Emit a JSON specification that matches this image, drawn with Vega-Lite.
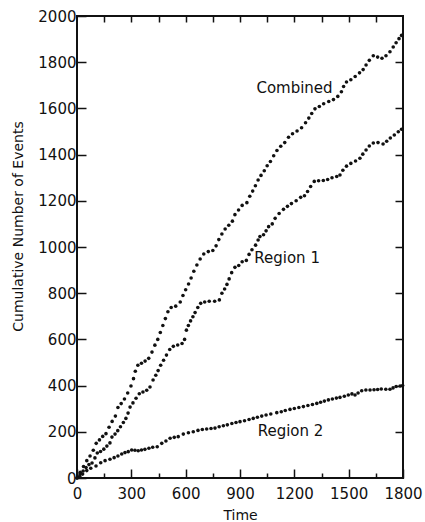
{
  "$schema": "https://vega.github.io/schema/vega-lite/v6.json",
  "width": 326,
  "height": 462,
  "autosize": "none",
  "padding": {"left": 77, "top": 16, "right": 22, "bottom": 44},
  "background": "white",
  "config": {
    "view": {"stroke": "#111", "strokeWidth": 2},
    "font": "DejaVu Sans",
    "axis": {"grid": false, "domain": false, "tickColor": "#111", "tickWidth": 1.5, "labelColor": "#111", "titleColor": "#111", "labelFontSize": 15, "titleFontSize": 14, "titleFontWeight": "normal", "format": "d"}
  },
  "datasets": {
    "pts": [
      {"s":"Combined","t":0,"v":0},{"s":"Combined","t":18,"v":25},{"s":"Combined","t":36,"v":50},{"s":"Combined","t":54,"v":75},{"s":"Combined","t":72,"v":95},{"s":"Combined","t":90,"v":120},{"s":"Combined","t":106,"v":150},{"s":"Combined","t":124,"v":165},{"s":"Combined","t":142,"v":180},{"s":"Combined","t":160,"v":192},{"s":"Combined","t":177,"v":220},{"s":"Combined","t":194,"v":245},{"s":"Combined","t":212,"v":268},{"s":"Combined","t":226,"v":305},{"s":"Combined","t":244,"v":322},{"s":"Combined","t":262,"v":342},{"s":"Combined","t":280,"v":368},{"s":"Combined","t":298,"v":398},{"s":"Combined","t":312,"v":430},{"s":"Combined","t":322,"v":462},{"s":"Combined","t":336,"v":488},{"s":"Combined","t":356,"v":497},{"s":"Combined","t":376,"v":506},{"s":"Combined","t":396,"v":518},{"s":"Combined","t":414,"v":545},{"s":"Combined","t":430,"v":575},{"s":"Combined","t":446,"v":600},{"s":"Combined","t":460,"v":630},{"s":"Combined","t":474,"v":660},{"s":"Combined","t":488,"v":690},{"s":"Combined","t":502,"v":720},{"s":"Combined","t":520,"v":738},{"s":"Combined","t":545,"v":744},{"s":"Combined","t":570,"v":762},{"s":"Combined","t":585,"v":790},{"s":"Combined","t":600,"v":815},{"s":"Combined","t":616,"v":840},{"s":"Combined","t":630,"v":866},{"s":"Combined","t":645,"v":895},{"s":"Combined","t":662,"v":922},{"s":"Combined","t":680,"v":948},{"s":"Combined","t":700,"v":970},{"s":"Combined","t":725,"v":980},{"s":"Combined","t":750,"v":985},{"s":"Combined","t":768,"v":1005},{"s":"Combined","t":783,"v":1032},{"s":"Combined","t":800,"v":1056},{"s":"Combined","t":818,"v":1078},{"s":"Combined","t":838,"v":1094},{"s":"Combined","t":858,"v":1112},{"s":"Combined","t":872,"v":1140},{"s":"Combined","t":892,"v":1160},{"s":"Combined","t":912,"v":1180},{"s":"Combined","t":938,"v":1192},{"s":"Combined","t":954,"v":1220},{"s":"Combined","t":970,"v":1242},{"s":"Combined","t":985,"v":1265},{"s":"Combined","t":1000,"v":1290},{"s":"Combined","t":1016,"v":1310},{"s":"Combined","t":1034,"v":1330},{"s":"Combined","t":1050,"v":1352},{"s":"Combined","t":1068,"v":1370},{"s":"Combined","t":1086,"v":1395},{"s":"Combined","t":1104,"v":1418},{"s":"Combined","t":1125,"v":1436},{"s":"Combined","t":1147,"v":1452},{"s":"Combined","t":1168,"v":1475},{"s":"Combined","t":1190,"v":1490},{"s":"Combined","t":1215,"v":1502},{"s":"Combined","t":1240,"v":1516},{"s":"Combined","t":1262,"v":1538},{"s":"Combined","t":1280,"v":1558},{"s":"Combined","t":1296,"v":1578},{"s":"Combined","t":1314,"v":1598},{"s":"Combined","t":1338,"v":1608},{"s":"Combined","t":1362,"v":1620},{"s":"Combined","t":1390,"v":1630},{"s":"Combined","t":1416,"v":1638},{"s":"Combined","t":1440,"v":1652},{"s":"Combined","t":1460,"v":1672},{"s":"Combined","t":1472,"v":1695},{"s":"Combined","t":1488,"v":1714},{"s":"Combined","t":1512,"v":1724},{"s":"Combined","t":1536,"v":1738},{"s":"Combined","t":1560,"v":1754},{"s":"Combined","t":1580,"v":1768},{"s":"Combined","t":1596,"v":1788},{"s":"Combined","t":1614,"v":1808},{"s":"Combined","t":1636,"v":1828},{"s":"Combined","t":1660,"v":1822},{"s":"Combined","t":1684,"v":1817},{"s":"Combined","t":1706,"v":1828},{"s":"Combined","t":1728,"v":1845},{"s":"Combined","t":1746,"v":1866},{"s":"Combined","t":1762,"v":1884},{"s":"Combined","t":1778,"v":1902},{"s":"Combined","t":1792,"v":1916},
      {"s":"Region 1","t":0,"v":0},{"s":"Region 1","t":17,"v":17},{"s":"Region 1","t":34,"v":30},{"s":"Region 1","t":50,"v":45},{"s":"Region 1","t":66,"v":58},{"s":"Region 1","t":83,"v":65},{"s":"Region 1","t":99,"v":87},{"s":"Region 1","t":112,"v":108},{"s":"Region 1","t":130,"v":115},{"s":"Region 1","t":148,"v":125},{"s":"Region 1","t":165,"v":138},{"s":"Region 1","t":182,"v":152},{"s":"Region 1","t":193,"v":177},{"s":"Region 1","t":210,"v":190},{"s":"Region 1","t":225,"v":205},{"s":"Region 1","t":240,"v":222},{"s":"Region 1","t":256,"v":240},{"s":"Region 1","t":270,"v":258},{"s":"Region 1","t":282,"v":281},{"s":"Region 1","t":293,"v":307},{"s":"Region 1","t":309,"v":325},{"s":"Region 1","t":326,"v":345},{"s":"Region 1","t":344,"v":365},{"s":"Region 1","t":364,"v":372},{"s":"Region 1","t":385,"v":380},{"s":"Region 1","t":403,"v":394},{"s":"Region 1","t":420,"v":424},{"s":"Region 1","t":435,"v":445},{"s":"Region 1","t":448,"v":465},{"s":"Region 1","t":462,"v":488},{"s":"Region 1","t":478,"v":510},{"s":"Region 1","t":494,"v":532},{"s":"Region 1","t":512,"v":556},{"s":"Region 1","t":532,"v":570},{"s":"Region 1","t":556,"v":576},{"s":"Region 1","t":580,"v":582},{"s":"Region 1","t":594,"v":600},{"s":"Region 1","t":604,"v":640},{"s":"Region 1","t":615,"v":660},{"s":"Region 1","t":627,"v":680},{"s":"Region 1","t":640,"v":698},{"s":"Region 1","t":652,"v":716},{"s":"Region 1","t":667,"v":738},{"s":"Region 1","t":683,"v":756},{"s":"Region 1","t":705,"v":762},{"s":"Region 1","t":730,"v":765},{"s":"Region 1","t":760,"v":765},{"s":"Region 1","t":786,"v":771},{"s":"Region 1","t":800,"v":800},{"s":"Region 1","t":815,"v":818},{"s":"Region 1","t":828,"v":838},{"s":"Region 1","t":840,"v":862},{"s":"Region 1","t":854,"v":889},{"s":"Region 1","t":872,"v":912},{"s":"Region 1","t":893,"v":920},{"s":"Region 1","t":912,"v":936},{"s":"Region 1","t":935,"v":942},{"s":"Region 1","t":950,"v":968},{"s":"Region 1","t":966,"v":988},{"s":"Region 1","t":986,"v":1008},{"s":"Region 1","t":1000,"v":1030},{"s":"Region 1","t":1010,"v":1045},{"s":"Region 1","t":1030,"v":1053},{"s":"Region 1","t":1044,"v":1070},{"s":"Region 1","t":1058,"v":1088},{"s":"Region 1","t":1078,"v":1100},{"s":"Region 1","t":1094,"v":1124},{"s":"Region 1","t":1116,"v":1145},{"s":"Region 1","t":1140,"v":1163},{"s":"Region 1","t":1162,"v":1176},{"s":"Region 1","t":1184,"v":1188},{"s":"Region 1","t":1210,"v":1200},{"s":"Region 1","t":1235,"v":1215},{"s":"Region 1","t":1256,"v":1222},{"s":"Region 1","t":1273,"v":1240},{"s":"Region 1","t":1290,"v":1262},{"s":"Region 1","t":1310,"v":1284},{"s":"Region 1","t":1334,"v":1287},{"s":"Region 1","t":1360,"v":1288},{"s":"Region 1","t":1384,"v":1292},{"s":"Region 1","t":1408,"v":1300},{"s":"Region 1","t":1434,"v":1305},{"s":"Region 1","t":1452,"v":1312},{"s":"Region 1","t":1468,"v":1332},{"s":"Region 1","t":1488,"v":1350},{"s":"Region 1","t":1512,"v":1362},{"s":"Region 1","t":1538,"v":1372},{"s":"Region 1","t":1562,"v":1384},{"s":"Region 1","t":1578,"v":1402},{"s":"Region 1","t":1596,"v":1420},{"s":"Region 1","t":1614,"v":1437},{"s":"Region 1","t":1636,"v":1450},{"s":"Region 1","t":1662,"v":1452},{"s":"Region 1","t":1690,"v":1446},{"s":"Region 1","t":1710,"v":1458},{"s":"Region 1","t":1730,"v":1472},{"s":"Region 1","t":1752,"v":1485},{"s":"Region 1","t":1774,"v":1499},{"s":"Region 1","t":1792,"v":1510},
      {"s":"Region 2","t":15,"v":8},{"s":"Region 2","t":31,"v":17},{"s":"Region 2","t":54,"v":32},{"s":"Region 2","t":76,"v":42},{"s":"Region 2","t":105,"v":52},{"s":"Region 2","t":131,"v":66},{"s":"Region 2","t":155,"v":75},{"s":"Region 2","t":182,"v":81},{"s":"Region 2","t":205,"v":88},{"s":"Region 2","t":226,"v":95},{"s":"Region 2","t":247,"v":104},{"s":"Region 2","t":265,"v":110},{"s":"Region 2","t":283,"v":114},{"s":"Region 2","t":302,"v":121},{"s":"Region 2","t":320,"v":120},{"s":"Region 2","t":338,"v":118},{"s":"Region 2","t":356,"v":121},{"s":"Region 2","t":375,"v":124},{"s":"Region 2","t":397,"v":129},{"s":"Region 2","t":418,"v":133},{"s":"Region 2","t":443,"v":135},{"s":"Region 2","t":468,"v":150},{"s":"Region 2","t":491,"v":160},{"s":"Region 2","t":514,"v":172},{"s":"Region 2","t":537,"v":176},{"s":"Region 2","t":559,"v":179},{"s":"Region 2","t":587,"v":190},{"s":"Region 2","t":615,"v":196},{"s":"Region 2","t":642,"v":200},{"s":"Region 2","t":668,"v":206},{"s":"Region 2","t":692,"v":210},{"s":"Region 2","t":716,"v":212},{"s":"Region 2","t":740,"v":214},{"s":"Region 2","t":762,"v":216},{"s":"Region 2","t":785,"v":222},{"s":"Region 2","t":808,"v":226},{"s":"Region 2","t":830,"v":230},{"s":"Region 2","t":855,"v":236},{"s":"Region 2","t":878,"v":240},{"s":"Region 2","t":900,"v":244},{"s":"Region 2","t":925,"v":248},{"s":"Region 2","t":950,"v":253},{"s":"Region 2","t":973,"v":258},{"s":"Region 2","t":996,"v":263},{"s":"Region 2","t":1020,"v":268},{"s":"Region 2","t":1044,"v":273},{"s":"Region 2","t":1070,"v":277},{"s":"Region 2","t":1103,"v":283},{"s":"Region 2","t":1128,"v":287},{"s":"Region 2","t":1150,"v":292},{"s":"Region 2","t":1176,"v":297},{"s":"Region 2","t":1200,"v":301},{"s":"Region 2","t":1225,"v":305},{"s":"Region 2","t":1250,"v":309},{"s":"Region 2","t":1275,"v":314},{"s":"Region 2","t":1300,"v":318},{"s":"Region 2","t":1324,"v":323},{"s":"Region 2","t":1345,"v":328},{"s":"Region 2","t":1366,"v":333},{"s":"Region 2","t":1388,"v":338},{"s":"Region 2","t":1410,"v":342},{"s":"Region 2","t":1432,"v":346},{"s":"Region 2","t":1452,"v":349},{"s":"Region 2","t":1476,"v":354},{"s":"Region 2","t":1498,"v":359},{"s":"Region 2","t":1518,"v":364},{"s":"Region 2","t":1535,"v":359},{"s":"Region 2","t":1552,"v":368},{"s":"Region 2","t":1572,"v":378},{"s":"Region 2","t":1595,"v":381},{"s":"Region 2","t":1618,"v":381},{"s":"Region 2","t":1640,"v":382},{"s":"Region 2","t":1660,"v":383},{"s":"Region 2","t":1680,"v":385},{"s":"Region 2","t":1705,"v":384},{"s":"Region 2","t":1728,"v":384},{"s":"Region 2","t":1745,"v":390},{"s":"Region 2","t":1762,"v":396},{"s":"Region 2","t":1784,"v":398},{"s":"Region 2","t":1798,"v":400}
    ],
    "labels": [
      {"label": "Combined", "t": 1201, "v": 1688},
      {"label": "Region 1", "t": 1160, "v": 952},
      {"label": "Region 2", "t": 1179, "v": 203}
    ]
  },
  "layer": [
    {
      "data": {"name": "pts"},
      "mark": {"type": "circle", "size": 13, "opacity": 1, "color": "#111"},
      "encoding": {
        "x": {"field": "t", "type": "quantitative", "scale": {"domain": [0, 1800], "nice": false},
          "axis": {"orient": "bottom", "title": "Time", "values": [0,150,300,450,600,750,900,1050,1200,1350,1500,1650,1800],
            "labelExpr": "datum.value % 300 === 0 ? datum.label : ''",
            "tickSize": {"condition": {"test": "datum.value % 300 === 0", "value": -9}, "value": -5},
            "labelPadding": 17, "titleY": 37, "titleBaseline": "middle", "labelFlush": false}},
        "y": {"field": "v", "type": "quantitative", "scale": {"domain": [0, 2000], "nice": false},
          "axis": {"orient": "left", "title": "Cumulative Number of Events", "values": [0,200,400,600,800,1000,1200,1400,1600,1800,2000],
            "tickSize": -9, "labelPadding": 10, "titleX": -59, "titleY": 210, "titleBaseline": "middle", "titleAlign": "center", "labelFlush": false}},
        "detail": {"field": "s"}
      }
    },
    {
      "data": {"name": "labels"},
      "mark": {"type": "text", "fontSize": 15, "color": "#111", "font": "DejaVu Sans"},
      "encoding": {
        "x": {"field": "t", "type": "quantitative",
          "axis": {"orient": "top", "title": null, "labels": false, "values": [150,300,450,600,750,900,1050,1200,1350,1500,1650], "tickSize": -6}},
        "y": {"field": "v", "type": "quantitative",
          "axis": {"orient": "right", "title": null, "labels": false, "values": [200,400,600,800,1000,1200,1400,1600,1800], "tickSize": -8}},
        "text": {"field": "label"}
      }
    }
  ],
  "resolve": {"axis": {"x": "independent", "y": "independent"}}
}
